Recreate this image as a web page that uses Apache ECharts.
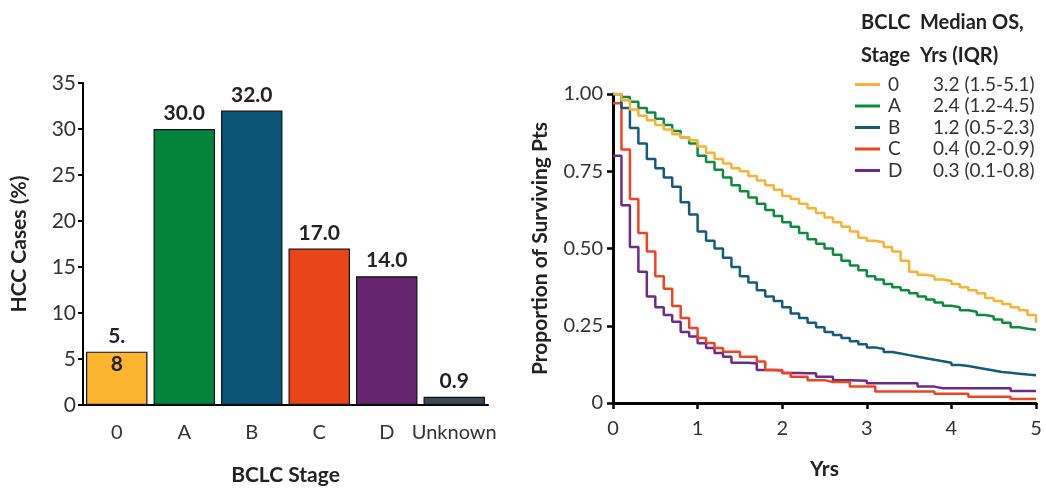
<!DOCTYPE html>
<html>
<head>
<meta charset="utf-8">
<script src="https://cdn.jsdelivr.net/npm/echarts@6/dist/echarts.min.js"></script>
<style>
  html, body { margin: 0; padding: 0; background: #fff; }
  #main { width: 1046px; height: 491px; }
</style>
</head>
<body>
<div id="main"></div>
<script>
// bar chart data (left)
var stages = ['0', 'A', 'B', 'C', 'D', 'Unknown'];
var hccCases = [5.8, 30.0, 32.0, 17.0, 14.0, 0.9];
var barColors = ['#FBB530', '#03843C', '#0B5475', '#E8461A', '#66266F', '#3C4955'];

// survival curves (right), read every 0.1 yrs
var yrs = [0, 0.1, 0.2, 0.3, 0.4, 0.5, 0.6, 0.7, 0.8, 0.9, 1.0, 1.1, 1.2, 1.3, 1.4, 1.5, 1.6, 1.7, 1.8, 1.9,
           2.0, 2.1, 2.2, 2.3, 2.4, 2.5, 2.6, 2.7, 2.8, 2.9, 3.0, 3.1, 3.2, 3.3, 3.4, 3.5, 3.6, 3.7, 3.8, 3.9,
           4.0, 4.1, 4.2, 4.3, 4.4, 4.5, 4.6, 4.7, 4.8, 4.9, 5.0];
var stage0 = [1.00, 0.98, 0.95, 0.93, 0.915, 0.90, 0.885, 0.87, 0.86, 0.85, 0.83, 0.81, 0.79, 0.775, 0.76, 0.75, 0.735, 0.72, 0.705, 0.69,
              0.67, 0.66, 0.645, 0.63, 0.615, 0.60, 0.585, 0.57, 0.555, 0.535, 0.525, 0.52, 0.505, 0.49, 0.46, 0.425, 0.415, 0.41, 0.40, 0.395,
              0.385, 0.375, 0.365, 0.355, 0.34, 0.33, 0.32, 0.31, 0.30, 0.285, 0.26];
var stageA = [1.00, 0.99, 0.975, 0.955, 0.94, 0.92, 0.90, 0.88, 0.86, 0.84, 0.80, 0.78, 0.755, 0.73, 0.705, 0.685, 0.665, 0.645, 0.625, 0.605,
              0.585, 0.57, 0.55, 0.53, 0.515, 0.50, 0.48, 0.46, 0.445, 0.43, 0.41, 0.40, 0.385, 0.375, 0.365, 0.355, 0.345, 0.335, 0.325, 0.315,
              0.31, 0.30, 0.295, 0.285, 0.28, 0.27, 0.26, 0.245, 0.24, 0.237, 0.237];
var stageB = [1.00, 0.955, 0.89, 0.84, 0.79, 0.76, 0.73, 0.70, 0.65, 0.61, 0.555, 0.525, 0.50, 0.47, 0.44, 0.41, 0.39, 0.365, 0.345, 0.33,
              0.31, 0.29, 0.275, 0.26, 0.245, 0.23, 0.22, 0.21, 0.20, 0.19, 0.18, 0.175, 0.165, 0.16, 0.155, 0.15, 0.145, 0.14, 0.135, 0.13,
              0.123, 0.12, 0.115, 0.11, 0.105, 0.10, 0.098, 0.095, 0.092, 0.09, 0.09];
var stageC = [0.97, 0.82, 0.66, 0.55, 0.49, 0.41, 0.37, 0.314, 0.275, 0.243, 0.21, 0.194, 0.178, 0.166, 0.166, 0.15, 0.15, 0.134, 0.107, 0.107,
              0.097, 0.085, 0.085, 0.074, 0.074, 0.068, 0.068, 0.068, 0.053, 0.053, 0.053, 0.037, 0.037, 0.037, 0.037, 0.037, 0.037, 0.037, 0.03, 0.03,
              0.03, 0.03, 0.02, 0.02, 0.02, 0.02, 0.02, 0.013, 0.013, 0.013, 0.013];
var stageD = [0.80, 0.64, 0.505, 0.425, 0.345, 0.31, 0.285, 0.263, 0.23, 0.215, 0.193, 0.178, 0.162, 0.15, 0.13, 0.13, 0.128, 0.107, 0.107, 0.105,
              0.097, 0.097, 0.096, 0.096, 0.085, 0.085, 0.074, 0.074, 0.073, 0.072, 0.064, 0.064, 0.064, 0.064, 0.064, 0.064, 0.053, 0.053, 0.048, 0.048,
              0.048, 0.048, 0.048, 0.048, 0.048, 0.048, 0.048, 0.039, 0.039, 0.039, 0.039];
var curveNames = ['0', 'A', 'B', 'C', 'D'];
var curveColors = ['#F9B232', '#0E8A3E', '#135B7B', '#EE4422', '#6A2C86'];
var medianOS = ['3.2 (1.5-5.1)', '2.4 (1.2-4.5)', '1.2 (0.5-2.3)', '0.4 (0.2-0.9)', '0.3 (0.1-0.8)'];
var yTicks = ['0', '0.25', '0.50', '0.75', '1.00'];

var FONT = 'Lato';
var curves = [stage0, stageA, stageB, stageC, stageD];

var myChart = echarts.init(document.getElementById('main'));

var barData = hccCases.map(function (v, i) {
    var item = { value: v, itemStyle: { color: barColors[i] } };
    if (i === 0) {
        // label wraps onto the bar in the original
        item.label = { formatter: '5.\n8', lineHeight: 28, offset: [0, 32] };
    }
    return item;
});

var lineSeries = curves.map(function (vals, i) {
    return {
        name: curveNames[i],
        type: 'line',
        xAxisIndex: 1,
        yAxisIndex: 1,
        step: 'end',
        showSymbol: false,
        lineStyle: { color: curveColors[i], width: 2.5 },
        itemStyle: { color: curveColors[i] },
        data: yrs.map(function (t, k) { return [t, vals[k]]; }),
        z: 5 - i
    };
});

var option = {
    animation: false,
    textStyle: { fontFamily: FONT },
    grid: [
        { left: 83, top: 83, width: 405, height: 326 },
        { left: 613, top: 94, width: 423, height: 309 }
    ],
    xAxis: [
        {
            type: 'category',
            gridIndex: 0,
            data: stages,
            name: 'BCLC Stage',
            nameLocation: 'middle',
            nameGap: 60,
            nameTextStyle: { fontSize: 21, fontWeight: 'bold', color: '#222' },
            axisLine: { lineStyle: { color: '#000', width: 2 } },
            axisTick: { length: 6, lineStyle: { color: '#000', width: 2 } },
            axisLabel: { fontSize: 20, color: '#333', margin: 18, interval: 0, hideOverlap: false }
        },
        {
            type: 'value',
            gridIndex: 1,
            min: 0, max: 5, interval: 1,
            name: 'Yrs',
            nameLocation: 'middle',
            nameGap: 56,
            nameTextStyle: { fontSize: 21, fontWeight: 'bold', color: '#222' },
            splitLine: { show: false },
            axisLine: { lineStyle: { color: '#000', width: 3 } },
            axisTick: { length: 6, lineStyle: { color: '#000', width: 2.5 } },
            axisLabel: { fontSize: 20, color: '#333', margin: 16 }
        }
    ],
    yAxis: [
        {
            type: 'value',
            gridIndex: 0,
            min: 0, max: 35, interval: 5,
            name: 'HCC Cases (%)',
            nameLocation: 'middle',
            nameGap: 53,
            nameTextStyle: { fontSize: 21, fontWeight: 'bold', color: '#222' },
            splitLine: { show: false },
            axisLine: { show: true, lineStyle: { color: '#000', width: 2 } },
            axisTick: { show: true, length: 5, lineStyle: { color: '#000', width: 2 } },
            axisLabel: { fontSize: 21, color: '#333', margin: 7 }
        },
        {
            type: 'value',
            gridIndex: 1,
            min: 0, max: 1, interval: 0.25,
            name: 'Proportion of Surviving Pts',
            nameLocation: 'middle',
            nameGap: 62,
            nameTextStyle: { fontSize: 21, fontWeight: 'bold', color: '#222' },
            splitLine: { show: false },
            axisLine: { show: true, lineStyle: { color: '#000', width: 3 } },
            axisTick: { show: true, length: 6, lineStyle: { color: '#000', width: 2.5 } },
            axisLabel: {
                fontSize: 20, color: '#333', margin: 10,
                formatter: function (v) { return yTicks[Math.round(v * 4)]; }
            }
        }
    ],
    legend: {
        data: curveNames,
        orient: 'vertical',
        left: 850,
        top: 70,
        itemWidth: 25,
        itemHeight: 3,
        itemGap: 2.5,
        icon: 'rect',
        selectedMode: false,
        formatter: function (name) {
            return '{n|' + name + '}{v|' + medianOS[curveNames.indexOf(name)] + '}';
        },
        textStyle: {
            color: '#333',
            rich: {
                n: { fontSize: 19, fontFamily: FONT, width: 40, padding: [0, 0, 0, 3], lineHeight: 19, color: '#333' },
                v: { fontSize: 19, fontFamily: FONT, lineHeight: 19, padding: [0, 0, 0, 5], color: '#333' }
            }
        }
    },
    graphic: [
        {
            type: 'text', left: 861, top: 6,
            style: { text: 'BCLC\nStage', font: 'bold 20px ' + FONT, fill: '#222', lineHeight: 33, align: 'center' }
        },
        {
            type: 'text', left: 920, top: 6,
            style: { text: 'Median OS,\nYrs (IQR)', font: 'bold 20px ' + FONT, fill: '#222', lineHeight: 33, align: 'center' }
        }
    ],
    series: [
        {
            type: 'bar',
            xAxisIndex: 0,
            yAxisIndex: 0,
            barCategoryGap: '9%',
            data: barData,
            itemStyle: { borderColor: '#111', borderWidth: 1.2 },
            label: {
                show: true,
                position: 'top',
                fontSize: 21,
                fontWeight: 'bold',
                color: '#222',
                formatter: function (p) { return p.value.toFixed(1); }
            }
        }
    ].concat(lineSeries)
};

myChart.setOption(option);
</script>
</body>
</html>
